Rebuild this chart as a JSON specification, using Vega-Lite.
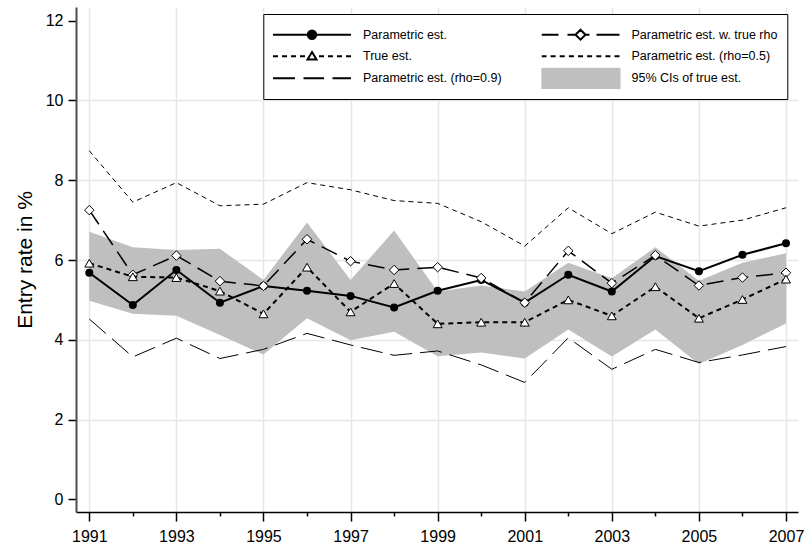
{
  "$schema": "https://vega.github.io/schema/vega-lite/v6.json",
  "autosize": {"type": "none"},
  "padding": {"left": 76, "top": 7, "right": 7, "bottom": 31},
  "width": 722,
  "height": 505,
  "background": "white",
  "data": {"values": [
    {"year": 1991, "par": 5.68, "rho": 7.25, "tru": 5.92, "r05": 8.74, "r09": 4.52, "lo": 4.98, "hi": 6.71},
    {"year": 1992, "par": 4.87, "rho": 5.63, "tru": 5.58, "r05": 7.45, "r09": 3.57, "lo": 4.65, "hi": 6.32},
    {"year": 1993, "par": 5.75, "rho": 6.11, "tru": 5.56, "r05": 7.94, "r09": 4.04, "lo": 4.60, "hi": 6.25},
    {"year": 1994, "par": 4.93, "rho": 5.47, "tru": 5.22, "r05": 7.36, "r09": 3.53, "lo": 4.12, "hi": 6.28},
    {"year": 1995, "par": 5.35, "rho": 5.35, "tru": 4.65, "r05": 7.40, "r09": 3.76, "lo": 3.63, "hi": 5.50},
    {"year": 1996, "par": 5.23, "rho": 6.52, "tru": 5.82, "r05": 7.94, "r09": 4.16, "lo": 4.54, "hi": 6.94},
    {"year": 1997, "par": 5.10, "rho": 5.97, "tru": 4.70, "r05": 7.76, "r09": 3.87, "lo": 3.99, "hi": 5.50},
    {"year": 1998, "par": 4.81, "rho": 5.75, "tru": 5.41, "r05": 7.49, "r09": 3.61, "lo": 4.20, "hi": 6.74},
    {"year": 1999, "par": 5.23, "rho": 5.82, "tru": 4.40, "r05": 7.42, "r09": 3.72, "lo": 3.59, "hi": 5.21},
    {"year": 2000, "par": 5.50, "rho": 5.55, "tru": 4.44, "r05": 6.96, "r09": 3.37, "lo": 3.68, "hi": 5.36},
    {"year": 2001, "par": 4.93, "rho": 4.93, "tru": 4.44, "r05": 6.35, "r09": 2.93, "lo": 3.53, "hi": 5.21},
    {"year": 2002, "par": 5.63, "rho": 6.23, "tru": 5.00, "r05": 7.31, "r09": 4.05, "lo": 4.26, "hi": 5.93},
    {"year": 2003, "par": 5.21, "rho": 5.42, "tru": 4.60, "r05": 6.66, "r09": 3.26, "lo": 3.58, "hi": 5.54},
    {"year": 2004, "par": 6.10, "rho": 6.12, "tru": 5.33, "r05": 7.20, "r09": 3.76, "lo": 4.26, "hi": 6.32},
    {"year": 2005, "par": 5.72, "rho": 5.36, "tru": 4.54, "r05": 6.85, "r09": 3.43, "lo": 3.39, "hi": 5.48},
    {"year": 2006, "par": 6.13, "rho": 5.56, "tru": 5.01, "r05": 7.00, "r09": 3.62, "lo": 3.87, "hi": 5.93},
    {"year": 2007, "par": 6.42, "rho": 5.68, "tru": 5.52, "r05": 7.31, "r09": 3.83, "lo": 4.41, "hi": 6.17}
  ]},
  "encoding": {
    "x": {
      "field": "year", "type": "quantitative", "title": null,
      "scale": {"domain": [1990.6946, 2007.2756], "nice": false, "zero": false},
      "axis": {
        "values": [1991,1992,1993,1994,1995,1996,1997,1998,1999,2000,2001,2002,2003,2004,2005,2006,2007],
        "format": "d",
        "labelExpr": "datum.value % 2 == 1 ? datum.label : ''",
        "tickSize": {"condition": {"test": "datum.value % 2 == 0", "value": 4}, "value": 9},
        "gridOpacity": {"condition": {"test": "datum.value % 2 == 0", "value": 0}, "value": 1},
        "domainColor": "black", "domainWidth": 1.5,
        "tickColor": "black", "tickWidth": 1.5,
        "labelPadding": 7, "labelFlush": false, "labelOverlap": false
      }
    }
  },
  "layer": [
    {
      "mark": {"type": "area", "color": "#bfbfbf", "opacity": 1},
      "encoding": {
        "y": {
          "field": "lo", "type": "quantitative", "title": "Entry rate in %",
          "scale": {"domain": [-0.318, 12.3435], "nice": false, "zero": false},
          "axis": {
            "values": [0, 2, 4, 6, 8, 10, 12],
            "domainColor": "#4d4d4d", "domainWidth": 2,
            "tickColor": "black", "tickWidth": 1.5, "tickSize": 8,
            "labelPadding": 5, "titlePadding": 10,
            "gridOpacity": {"condition": {"test": "datum.value == 0 || datum.value == 12", "value": 0}, "value": 1}
          }
        },
        "y2": {"field": "hi"}
      }
    },
    {
      "mark": {"type": "line", "color": "black", "strokeWidth": 1, "strokeDash": [5, 4]},
      "encoding": {"y": {"field": "r05", "type": "quantitative", "title": "Entry rate in %", "scale": {"domain": [-0.318, 12.3435], "nice": false, "zero": false}}}
    },
    {
      "mark": {"type": "line", "color": "black", "strokeWidth": 1, "strokeDash": [22, 8]},
      "encoding": {"y": {"field": "r09", "type": "quantitative", "title": "Entry rate in %", "scale": {"domain": [-0.318, 12.3435], "nice": false, "zero": false}}}
    },
    {
      "mark": {"type": "line", "color": "black", "strokeWidth": 2},
      "encoding": {"y": {"field": "par", "type": "quantitative", "title": "Entry rate in %", "scale": {"domain": [-0.318, 12.3435], "nice": false, "zero": false}}}
    },
    {
      "mark": {"type": "point", "shape": "circle", "filled": true, "color": "black", "size": 64, "opacity": 1},
      "encoding": {"y": {"field": "par", "type": "quantitative", "title": "Entry rate in %", "scale": {"domain": [-0.318, 12.3435], "nice": false, "zero": false}}}
    },
    {
      "mark": {"type": "line", "color": "black", "strokeWidth": 1.5, "strokeDash": [17, 8]},
      "encoding": {"y": {"field": "rho", "type": "quantitative", "title": "Entry rate in %", "scale": {"domain": [-0.318, 12.3435], "nice": false, "zero": false}}}
    },
    {
      "mark": {"type": "point", "shape": "diamond", "filled": true, "fill": "white", "stroke": "black", "strokeWidth": 1, "size": 90, "opacity": 1},
      "encoding": {"y": {"field": "rho", "type": "quantitative", "title": "Entry rate in %", "scale": {"domain": [-0.318, 12.3435], "nice": false, "zero": false}}}
    },
    {
      "mark": {"type": "line", "color": "black", "strokeWidth": 2, "strokeDash": [5, 4]},
      "encoding": {"y": {"field": "tru", "type": "quantitative", "title": "Entry rate in %", "scale": {"domain": [-0.318, 12.3435], "nice": false, "zero": false}}}
    },
    {
      "mark": {"type": "point", "shape": "triangle-up", "filled": true, "fill": "white", "stroke": "black", "strokeWidth": 1, "size": 80, "opacity": 1},
      "encoding": {"y": {"field": "tru", "type": "quantitative", "title": "Entry rate in %", "scale": {"domain": [-0.318, 12.3435], "nice": false, "zero": false}}}
    },
    {
      "data": {"values": []},
      "mark": {"type": "point", "opacity": 1},
      "encoding": {
        "shape": {
          "field": "series", "type": "nominal", "legend": {"title": null},
          "scale": {
            "domain": ["Parametric est.", "True est.", "Parametric est. (rho=0.9)", "Parametric est. w. true rho", "Parametric est. (rho=0.5)", "95% CIs of true est."],
            "range": [
              "M-3.9,0H3.9M0.42,0A0.42,0.42,0,1,1,-0.42,0A0.42,0.42,0,1,1,0.42,0Z",
              "M-3.9,0H-3.4M-3,0H-2.5M-2.1,0H-1.6M-1.2,0H-0.7M0.7,0H1.2M1.6,0H2.1M2.5,0H3M3.4,0H3.9M0,-0.42L0.45,0.33L-0.45,0.33Z",
              "M-3.9,0H-1.7M-0.85,0H1.2M2.05,0H3.9",
              "M-3.9,0H-2.2M-1.3,0H-0.5M0.5,0H0.9M1.6,0H3.9M0,-0.5L0.5,0L0,0.5L-0.5,0Z",
              "M-3.9,0H-3.4M-2.99,0H-2.49M-2.08,0H-1.58M-1.16,0H-0.66M-0.25,0H0.25M0.66,0H1.16M1.58,0H2.08M2.49,0H2.99M3.4,0H3.9",
              "M-3.9,-1H3.9V1H-3.9Z"
            ]
          }
        },
        "fill": {
          "field": "series", "type": "nominal", "legend": {"title": null},
          "scale": {
            "domain": ["Parametric est.", "True est.", "Parametric est. (rho=0.9)", "Parametric est. w. true rho", "Parametric est. (rho=0.5)", "95% CIs of true est."],
            "range": ["black", "white", "white", "white", "white", "#bfbfbf"]
          }
        },
        "stroke": {
          "field": "series", "type": "nominal", "legend": {"title": null},
          "scale": {
            "domain": ["Parametric est.", "True est.", "Parametric est. (rho=0.9)", "Parametric est. w. true rho", "Parametric est. (rho=0.5)", "95% CIs of true est."],
            "range": ["black", "black", "black", "black", "black", "#bfbfbf"]
          }
        },
        "strokeWidth": {
          "field": "series", "type": "nominal", "legend": {"title": null},
          "scale": {
            "domain": ["Parametric est.", "True est.", "Parametric est. (rho=0.9)", "Parametric est. w. true rho", "Parametric est. (rho=0.5)", "95% CIs of true est."],
            "range": [2, 2, 1, 1.5, 1, 0]
          }
        }
      }
    }
  ],
  "config": {
    "view": {"stroke": null},
    "font": "Liberation Sans",
    "axis": {
      "labelFont": "Liberation Sans", "labelFontSize": 16, "labelColor": "black",
      "titleFont": "Liberation Sans", "titleFontSize": 21, "titleFontWeight": "normal", "titleColor": "black",
      "grid": true, "gridColor": "#e6e6e6", "gridWidth": 1.5
    },
    "legend": {
      "orient": "none", "legendX": 187.3, "legendY": 7,
      "columns": 2, "padding": 9.7,
      "strokeColor": "black", "fillColor": "white",
      "symbolSize": 400, "symbolOffset": 28, "labelOffset": 40,
      "clipHeight": 21.2,
      "gridAlign": "each",
      "rowPadding": 0, "columnPadding": 39.5,
      "labelFont": "Liberation Sans", "labelFontSize": 12.5, "labelColor": "black", "labelLimit": 400,
      "labelExpr": "datum.label + '\u00a0\u00a0'"
    }
  }
}
